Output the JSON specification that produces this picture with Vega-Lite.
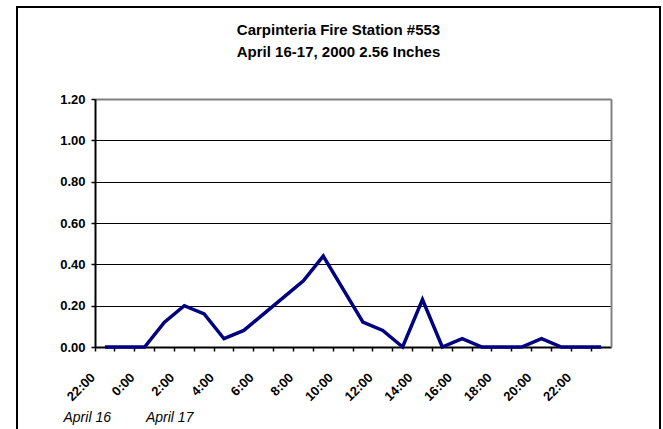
{
  "$schema": "https://vega.github.io/schema/vega-lite/v6.json",
  "width": 643,
  "height": 422,
  "autosize": {"type": "none"},
  "padding": {"left": 17, "top": 7, "right": 3, "bottom": 0},
  "background": "white",
  "title": {
    "text": ["Carpinteria Fire Station #553", "April 16-17, 2000 2.56 Inches"],
    "font": "Liberation Sans",
    "fontSize": 15,
    "fontWeight": "bold",
    "color": "black",
    "anchor": "middle",
    "frame": "group",
    "baseline": "bottom",
    "lineHeight": 21.6,
    "offset": -68
  },
  "data": {
    "values": [
      {"hour": "04/16 22:00", "rain": 0},
      {"hour": "04/16 23:00", "rain": 0},
      {"hour": "04/17 0:00", "rain": 0},
      {"hour": "04/17 1:00", "rain": 0.12},
      {"hour": "04/17 2:00", "rain": 0.2},
      {"hour": "04/17 3:00", "rain": 0.16},
      {"hour": "04/17 4:00", "rain": 0.04},
      {"hour": "04/17 5:00", "rain": 0.08},
      {"hour": "04/17 6:00", "rain": 0.16},
      {"hour": "04/17 7:00", "rain": 0.24},
      {"hour": "04/17 8:00", "rain": 0.32},
      {"hour": "04/17 9:00", "rain": 0.44},
      {"hour": "04/17 10:00", "rain": 0.28},
      {"hour": "04/17 11:00", "rain": 0.12},
      {"hour": "04/17 12:00", "rain": 0.08},
      {"hour": "04/17 13:00", "rain": 0},
      {"hour": "04/17 14:00", "rain": 0.23},
      {"hour": "04/17 15:00", "rain": 0},
      {"hour": "04/17 16:00", "rain": 0.04},
      {"hour": "04/17 17:00", "rain": 0},
      {"hour": "04/17 18:00", "rain": 0},
      {"hour": "04/17 19:00", "rain": 0},
      {"hour": "04/17 20:00", "rain": 0.04},
      {"hour": "04/17 21:00", "rain": 0},
      {"hour": "04/17 22:00", "rain": 0},
      {"hour": "04/17 23:00", "rain": 0}
    ]
  },
  "layer": [
    {
      "mark": {"type": "line", "color": "#000080", "strokeWidth": 3.5},
      "encoding": {
        "x": {
          "field": "hour",
          "type": "nominal",
          "sort": null,
          "scale": {"type": "band", "range": [78, 594], "paddingInner": 0, "paddingOuter": 0},
          "axis": {
            "orient": "bottom",
            "offset": -82,
            "bandPosition": 0,
            "grid": false,
            "domainColor": "black",
            "domainWidth": 2,
            "tickColor": "black",
            "tickSize": 4,
            "tickWidth": 1.5,
            "labelAngle": -45,
            "labelAlign": "right",
            "labelBaseline": "middle",
            "labelPadding": 24,
            "labelOffset": -12,
            "labelFontSize": 13,
            "labelFontWeight": "bold",
            "labelColor": "black",
            "labelOverlap": false,
            "labelExpr": "parseInt(split(datum.label, ' ')[1]) % 2 == 0 ? split(datum.label, ' ')[1] : ''",
            "title": "April 16\u00a0\u00a0\u00a0\u00a0\u00a0\u00a0\u00a0\u00a0\u00a0April 17",
            "titleFontSize": 14,
            "titleFontStyle": "italic",
            "titleFontWeight": "normal",
            "titleColor": "black",
            "titleX": 46,
            "titleY": 74,
            "titleAlign": "left",
            "titleBaseline": "alphabetic"
          }
        },
        "y": {
          "field": "rain",
          "type": "quantitative",
          "scale": {"domain": [0, 1.2], "range": [340, 92]},
          "axis": {
            "orient": "left",
            "offset": -78,
            "values": [0, 0.2, 0.4, 0.6, 0.8, 1, 1.2],
            "format": ".2f",
            "domainColor": "black",
            "domainWidth": 2,
            "tickColor": "black",
            "tickSize": 4,
            "tickWidth": 1.5,
            "labelFontSize": 13,
            "labelFontWeight": "bold",
            "labelColor": "black",
            "labelPadding": 6,
            "grid": true,
            "gridColor": {"condition": {"test": "datum.value > 1.1", "value": "#808080"}, "value": "black"},
            "gridWidth": 1,
            "title": null
          }
        }
      }
    },
    {
      "mark": {"type": "line", "strokeOpacity": 0},
      "encoding": {
        "x": {
          "field": "hour",
          "type": "nominal",
          "sort": null,
          "axis": {"orient": "top", "offset": -92, "domainColor": "#808080", "domainWidth": 2, "ticks": false, "labels": false, "grid": false, "title": null}
        },
        "y": {
          "field": "rain",
          "type": "quantitative",
          "axis": {"orient": "right", "offset": -49, "domainColor": "#808080", "domainWidth": 2, "ticks": false, "labels": false, "grid": false, "title": null}
        }
      }
    }
  ],
  "resolve": {"axis": {"x": "independent", "y": "independent"}},
  "config": {
    "font": "Liberation Sans",
    "view": {"stroke": "black", "strokeWidth": 2, "strokeDash": [1065, 643, 440]}
  }
}
